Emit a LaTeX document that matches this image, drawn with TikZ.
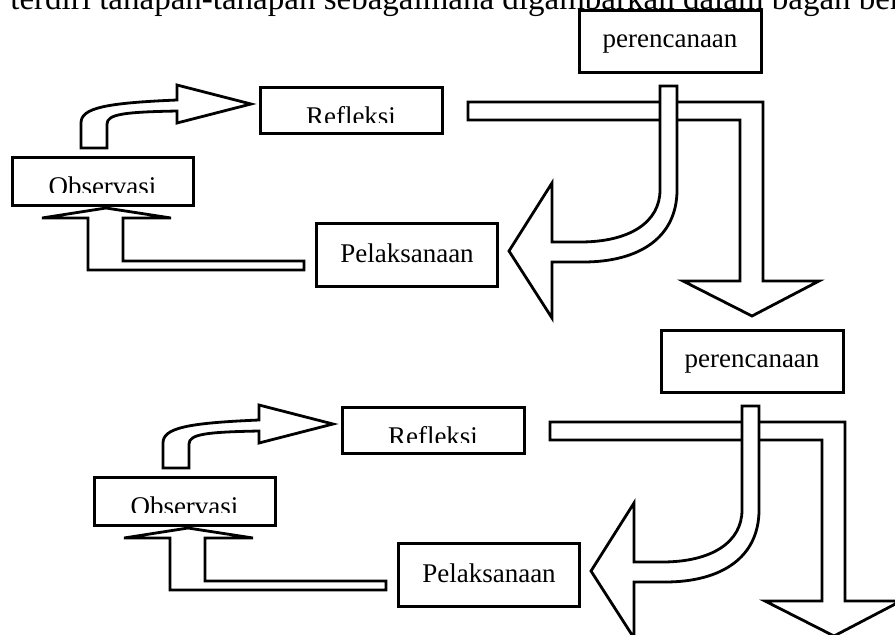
\documentclass[tikz,border=0pt]{standalone}
\usepackage{fontspec}
\setmainfont{Liberation Serif}

\tikzset{
	box/.style={draw, line width=1.5pt, inner sep=0pt},
	lbl/.style={anchor=base, inner sep=0pt, font=\fontsize{13.5}{16}\selectfont},
	fatarrow/.style={draw, fill=white, line width=1.4pt, line join=miter},
}

\begin{document}
\begin{tikzpicture}[x=0.5pt, y=-0.5pt]
	\useasboundingbox (0,0) rectangle (895,634);
	\clip (0,0) rectangle (895,634);
	\node[anchor=base west, inner sep=0pt, font=\fontsize{16.5}{19}\selectfont] (intro) at (10,9) {terdiri tahapan-tahapan sebagaimana digambarkan dalam bagan berikut};
	\foreach \i/\dx/\dy in {1/0/0, 2/82/320} {
		\begin{scope}[shift={(\dx,\dy)}]
			\node[box, minimum width=91pt, minimum height=31pt] (plan\i) at (670,41) {};
			\node[lbl] (plantxt\i) at (670,47) {perencanaan};
			\node[box, minimum width=91pt, minimum height=23pt] (refl\i) at (351,110) {};
			\node[box, minimum width=90.5pt, minimum height=24pt] (obs\i) at (102.5,181) {};
			\node[box, minimum width=90.5pt, minimum height=31.5pt] (pel\i) at (406.5,254.5) {};
			\node[lbl] (peltxt\i) at (407,262) {Pelaksanaan};
			\begin{scope}
				\clip (262,89) rectangle (440,122);
				\node[lbl] (refltxt\i) at (351,125) {Refleksi};
			\end{scope}
			\begin{scope}
				\clip (14,159) rectangle (191,192);
				\node[lbl] (obstxt\i) at (102.5,195) {Observasi};
			\end{scope}
			\draw[fatarrow] (81,148) -- (81,123) .. controls (81,108) and (105,103) .. (177,100)
				-- (177,85) -- (251,104) -- (177,123) -- (177,111)
				.. controls (125,112) and (107,114) .. (107,124) -- (107,148) -- cycle;
			\draw[fatarrow] (304,261) -- (304,270) -- (88,270) -- (88,218) -- (42,218)
				-- (106,208) -- (171,218) -- (123,218) -- (123,261) -- cycle;
			\draw[fatarrow] (468,102) -- (763,102) -- (763,281) -- (819,281) -- (752,316)
				-- (683,281) -- (740,281) -- (740,120) -- (468,120) -- cycle;
			\draw[fatarrow] (660,86) -- (677,86) -- (677,190) .. controls (677,237) and (640,262) .. (583,262)
				-- (552,262) -- (552,318) -- (509,251) -- (552,183) -- (552,242) -- (580,242)
				.. controls (630,242) and (660,222) .. (660,190) -- cycle;
		\end{scope}
	}
\end{tikzpicture}
\end{document}
